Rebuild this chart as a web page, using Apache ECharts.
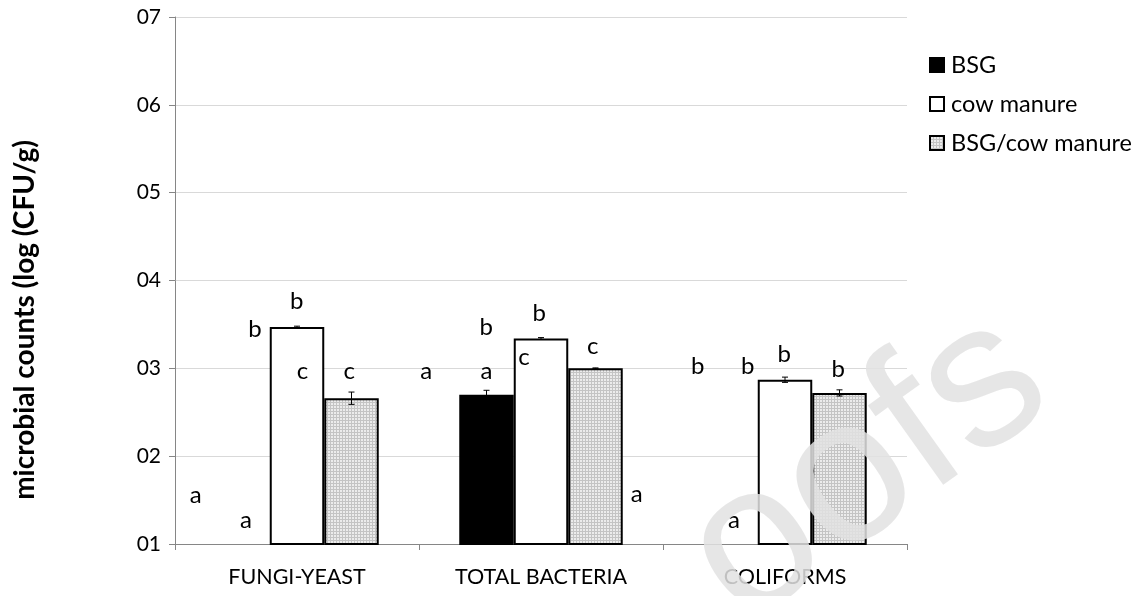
<!DOCTYPE html>
<html><head><meta charset="utf-8">
<script src="https://cdn.jsdelivr.net/npm/echarts@6/dist/echarts.min.js"></script>
<style>html,body{margin:0;padding:0;background:#fff}#c{width:1137px;height:596px}</style>
</head><body><div id="c"></div>
<script>
const categories = ['FUNGI-YEAST', 'TOTAL BACTERIA', 'COLIFORMS'];
const seriesNames = ['BSG', 'cow manure', 'BSG/cow manure'];
const bsgValues = [null, 2.70, null];
const cowValues = [3.47, 3.34, 2.87];
const mixValues = [2.66, 3.00, 2.72];
const bsgErrors = [null, 0.05, null];
const cowErrors = [0.01, 0.01, 0.03];
const mixErrors = [0.07, 0.005, 0.035];
const yTickLabels = ['01', '02', '03', '04', '05', '06', '07'];
const letterText = ['b','b','c','c','a','a','a','b','a','b','c','c','a','b','b','b','b','a'];
const letterX = [0.499,0.328,0.522,0.714,1.030,0.085,0.291,1.275,1.277,1.493,1.430,1.712,1.892,2.142,2.347,2.497,2.718,2.291];
const letterY = [3.767,3.445,2.964,2.964,2.964,1.551,1.275,3.464,2.972,3.623,3.123,3.256,1.570,3.028,3.028,3.161,2.991,1.275];
const axisTitle = 'microbial counts (log (CFU/g)';

const FONT = 'Lato, "Noto Sans", sans-serif';

function makePattern() {
  const c = document.createElement('canvas');
  c.width = 3; c.height = 3;
  const g = c.getContext('2d');
  g.fillStyle = '#ececec'; g.fillRect(0, 0, 3, 3);
  g.fillStyle = '#c4c4c4'; g.fillRect(0, 0, 3, 1); g.fillRect(0, 0, 1, 3);
  return c;
}
const patternFill = { image: makePattern(), repeat: 'repeat' };
const GAP = 0.33;

function barSeries(name, vals, color) {
  return {
    name: name, type: 'bar', data: vals, barGap: 0, barCategoryGap: (GAP * 100) + '%',
    itemStyle: { color: color, borderColor: '#000', borderWidth: 2 },
    emphasis: { disabled: true }, z: 2
  };
}
function errSeries(vals, errs, idx) {
  const data = [];
  vals.forEach((v, i) => { if (v != null) data.push([i, v, errs[i]]); });
  return {
    type: 'custom', data: data, z: 4, silent: true,
    renderItem: function (params, api) {
      const x = api.value(0), v = api.value(1), e = api.value(2);
      const catW = api.size([1, 0])[0];
      const bw = catW * (1 - GAP) / 3;
      const cx = api.coord([x, v])[0] + (idx - 1) * bw;
      const top = api.coord([x, v + e])[1], bot = api.coord([x, v - e])[1];
      const st = { stroke: '#000', lineWidth: 1 };
      return { type: 'group', children: [
        { type: 'line', shape: { x1: cx, y1: top, x2: cx, y2: bot }, style: st },
        { type: 'line', shape: { x1: cx - 3, y1: top, x2: cx + 3, y2: top }, style: st },
        { type: 'line', shape: { x1: cx - 3, y1: bot, x2: cx + 3, y2: bot }, style: st }
      ]};
    }
  };
}

const chart = echarts.init(document.getElementById('c'), null, { renderer: 'canvas' });
chart.setOption({
  animation: false,
  backgroundColor: '#fff',
  grid: { left: 175, right: 230, top: 17, bottom: 52 },
  legend: {
    orient: 'vertical', left: 924, top: 48, itemWidth: 14, itemHeight: 14, itemGap: 15,
    icon: 'rect', data: seriesNames, selectedMode: false,
    textStyle: { fontFamily: FONT, fontSize: 23.5, color: '#000', padding: [0, 0, 0, 2] }
  },
  xAxis: [{
    type: 'category', data: categories,
    axisLine: { lineStyle: { color: '#868686', width: 1 } },
    axisTick: { show: true, length: 6, lineStyle: { color: '#868686' } },
    axisLabel: { margin: 22, fontFamily: FONT, fontSize: 21.5, color: '#000' },
    splitLine: { show: false }
  }, {
    type: 'value', min: 0, max: 3, show: false
  }],
  yAxis: {
    type: 'value', min: 1, max: 7, interval: 1,
    axisLine: { show: true, lineStyle: { color: '#868686', width: 1 } },
    axisTick: { show: true, length: 6, lineStyle: { color: '#868686' } },
    axisLabel: { margin: 14, fontFamily: FONT, fontSize: 21, color: '#000',
      formatter: v => yTickLabels[Math.round(v) - 1] },
    splitLine: { lineStyle: { color: '#d9d9d9', width: 1 } }
  },
  graphic: [
    { type: 'text', x: 25, y: 320, rotation: Math.PI / 2,
      style: { text: axisTitle, font: 'bold 28px ' + FONT, fill: '#000', align: 'center', verticalAlign: 'middle' } },
    { type: 'text', x: 1085, y: 440, rotation: 0.62, z: 100, silent: true,
      style: { text: 'oofs', font: '205px "Liberation Sans", sans-serif', fill: 'rgba(226,226,226,0.85)', align: 'right', verticalAlign: 'bottom' } }
  ],
  series: [
    barSeries(seriesNames[0], bsgValues, '#000'),
    barSeries(seriesNames[1], cowValues, '#fff'),
    barSeries(seriesNames[2], mixValues, patternFill),
    errSeries(bsgValues, bsgErrors, 0),
    errSeries(cowValues, cowErrors, 1),
    errSeries(mixValues, mixErrors, 2),
    {
      type: 'custom', xAxisIndex: 1, yAxisIndex: 0, z: 6, silent: true,
      data: letterX.map((x, i) => [x, letterY[i]]),
      renderItem: function (params, api) {
        const p = api.coord([api.value(0), api.value(1)]);
        return { type: 'text', x: p[0], y: p[1],
          style: { text: letterText[params.dataIndex], font: '24px ' + FONT, fill: '#000', align: 'center', verticalAlign: 'middle' } };
      }
    }
  ]
});
</script></body></html>
